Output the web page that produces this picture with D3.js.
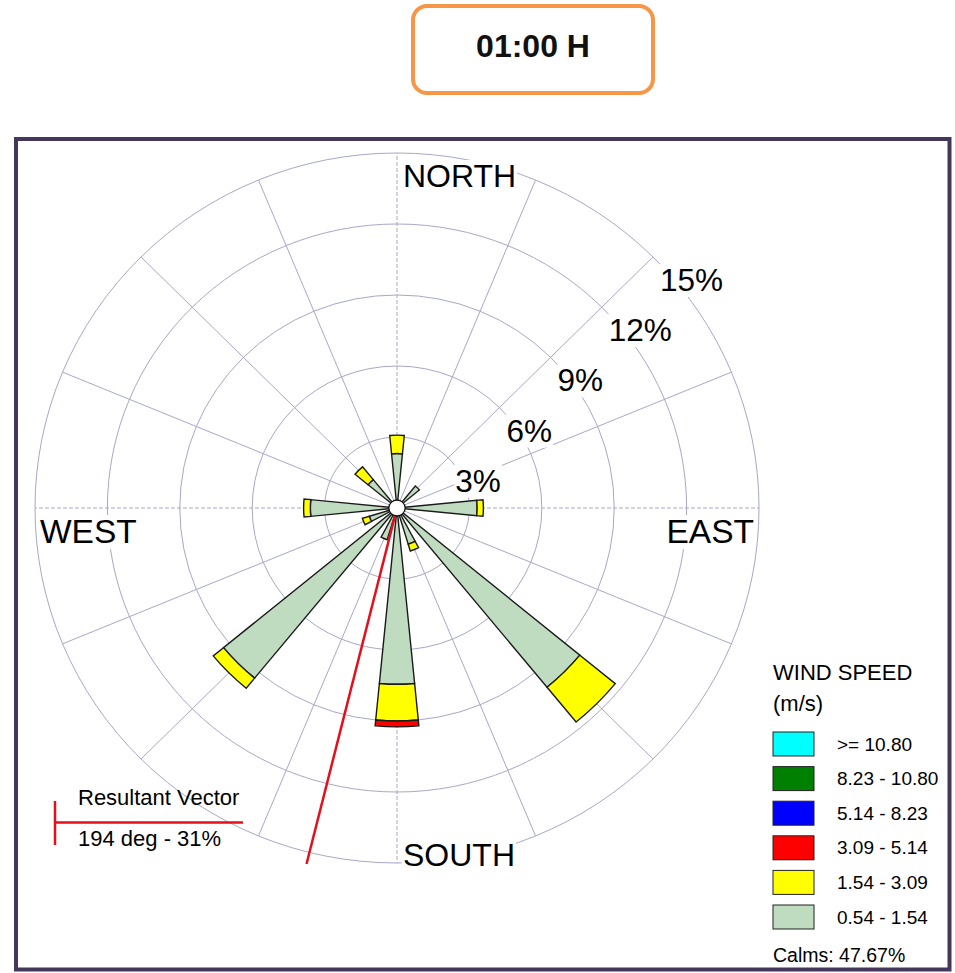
<!DOCTYPE html>
<html>
<head>
<meta charset="utf-8">
<script src="https://cdn.jsdelivr.net/npm/d3@7"></script>
<style>
  html, body { margin: 0; padding: 0; background: #fff; }
  svg { display: block; font-family: "Liberation Sans", Arial, sans-serif; }
</style>
</head>
<body>
<svg id="chart" width="955" height="973"></svg>
<script>
// Wind directions (blowing from), clockwise from north
const directions = ["N","NNE","NE","ENE","E","ESE","SE","SSE","S","SSW","SW","WSW","W","WNW","NW","NNW"];

// Frequency (%) per direction for each wind speed class
const speed054_154 = [2.30, 0, 1.20, 0, 3.32, 0, 9.80, 1.60, 7.45, 1.40, 9.30, 1.20, 3.59, 0, 1.55, 0];
const speed154_309 = [0.78, 0, 0, 0, 0.26, 0, 1.90, 0.30, 1.55, 0, 0.55, 0.30, 0.28, 0, 0.70, 0];
const speed309_514 = [0, 0, 0, 0, 0, 0, 0, 0, 0.25, 0, 0, 0, 0, 0, 0, 0];
const speed514_823 = [0, 0, 0, 0, 0, 0, 0, 0, 0, 0, 0, 0, 0, 0, 0, 0];
const speed823_1080 = [0, 0, 0, 0, 0, 0, 0, 0, 0, 0, 0, 0, 0, 0, 0, 0];
const speed1080up = [0, 0, 0, 0, 0, 0, 0, 0, 0, 0, 0, 0, 0, 0, 0, 0];

// Speed classes, from slowest to fastest (stacking order)
const classLabels = ["0.54 - 1.54", "1.54 - 3.09", "3.09 - 5.14", "5.14 - 8.23", "8.23 - 10.80", ">= 10.80"];
const classColors = ["#c0dcc0", "#ffff00", "#ff0000", "#0000ff", "#008000", "#00ffff"];
const classValues = [speed054_154, speed154_309, speed309_514, speed514_823, speed823_1080, speed1080up];

const ringTicks = [3, 6, 9, 12, 15];
const ringLabels = ["3%", "6%", "9%", "12%", "15%"];
const compassLabels = ["NORTH", "EAST", "SOUTH", "WEST"];

const titleText = "01:00 H";
const legendTitle = ["WIND SPEED", "(m/s)"];
const calmsText = "Calms: 47.67%";
const resultantDeg = 194;
const resultantPct = 31;

// Layout
const svg = d3.select("#chart");
const cx = 397, cy = 508;
const Ry = 355, Rx = 362;
const kx = Rx / Ry;
const FONT = "'Liberation Sans', Arial, sans-serif";

const rScale = d3.scaleLinear().domain([0, 15]).range([0, Ry]);
const angle = d3.scaleLinear().domain([0, directions.length]).range([0, 2 * Math.PI]);
const sectorWidth = (2 * Math.PI / directions.length) / 2;

// Title box
svg.append("rect")
  .attr("x", 413).attr("y", 6).attr("width", 240).attr("height", 87)
  .attr("rx", 14).attr("ry", 14)
  .attr("fill", "#fff").attr("stroke", "#f79646").attr("stroke-width", 4);
svg.append("text")
  .attr("x", 533).attr("y", 57).attr("text-anchor", "middle")
  .attr("font-size", 32).attr("font-weight", "bold").attr("fill", "#111")
  .text(titleText);

// Outer frame
svg.append("rect")
  .attr("x", 16).attr("y", 139).attr("width", 933.5).attr("height", 830.5)
  .attr("fill", "#fff").attr("stroke", "#45375c").attr("stroke-width", 4);

// Polar plot group (slightly wider than tall)
const plot = svg.append("g").attr("transform", `translate(${cx},${cy}) scale(${kx},1)`);
const gridColor = "#a7a7c9";

// Rings
plot.selectAll("circle.ring").data(ringTicks).join("circle")
  .attr("class", "ring")
  .attr("r", d => rScale(d))
  .attr("fill", "none").attr("stroke", gridColor).attr("stroke-width", 1)
  .attr("vector-effect", "non-scaling-stroke");

// Spokes; the four cardinal axes are dashed
plot.selectAll("line.spoke").data(directions.map((d, i) => i)).join("line")
  .attr("class", "spoke")
  .attr("x1", 0).attr("y1", 0)
  .attr("x2", i => rScale(15) * Math.sin(angle(i)))
  .attr("y2", i => -rScale(15) * Math.cos(angle(i)))
  .attr("stroke", gridColor).attr("stroke-width", 1)
  .attr("stroke-dasharray", i => i % 4 === 0 ? "4,2" : null)
  .attr("vector-effect", "non-scaling-stroke");

// Stacked petals
const arc = d3.arc();
const segments = [];
directions.forEach((dir, i) => {
  let base = 0;
  classValues.forEach((vals, c) => {
    const v = vals[i];
    if (v > 0) {
      segments.push({ i, c, r0: base, r1: base + v });
      base += v;
    }
  });
});
plot.selectAll("path.petal").data(segments).join("path")
  .attr("class", "petal")
  .attr("d", s => arc({
    innerRadius: rScale(s.r0),
    outerRadius: rScale(s.r1),
    startAngle: angle(s.i) - sectorWidth / 2,
    endAngle: angle(s.i) + sectorWidth / 2
  }))
  .attr("fill", s => classColors[s.c])
  .attr("stroke", "#1a1a1a").attr("stroke-width", 1.4)
  .attr("stroke-linejoin", "miter")
  .attr("vector-effect", "non-scaling-stroke");

// Resultant vector (drawn at half scale)
const resA = resultantDeg * Math.PI / 180;
plot.append("line")
  .attr("x1", 0).attr("y1", 0)
  .attr("x2", rScale(resultantPct / 2) * Math.sin(resA))
  .attr("y2", -rScale(resultantPct / 2) * Math.cos(resA))
  .attr("stroke", "#e3101c").attr("stroke-width", 2.5)
  .attr("vector-effect", "non-scaling-stroke");

// Center hub
plot.append("circle").attr("r", 8)
  .attr("fill", "#fff").attr("stroke", "#111").attr("stroke-width", 1.3)
  .attr("vector-effect", "non-scaling-stroke");

// Text with white backing
function labelWithBg(x, y, txt, size, anchor) {
  const g = svg.append("g");
  const bg = g.append("rect").attr("fill", "#fff");
  const t = g.append("text")
    .attr("x", x).attr("y", y)
    .attr("font-size", size).attr("font-family", FONT)
    .attr("text-anchor", anchor || "start").attr("fill", "#000")
    .text(txt);
  const b = t.node().getBBox();
  bg.attr("x", b.x - 1).attr("y", b.y + 2).attr("width", b.width + 2).attr("height", b.height - 3);
}

// Ring percentage labels along the NE diagonal
const diag = Math.PI / 4;
ringTicks.forEach((v, k) => {
  const x = cx + kx * rScale(v) * Math.sin(diag) + 7;
  const y = cy - rScale(v) * Math.cos(diag) + 34;
  labelWithBg(x, y, ringLabels[k], 31.5);
});

// Compass labels
const Rout = rScale(15);
labelWithBg(cx + 6, cy - Rout + 34, compassLabels[0], 32);
labelWithBg(cx + kx * Rout - 5, cy + 35, compassLabels[1], 33.5, "end");
labelWithBg(cx + 6, cy + Rout + 3, compassLabels[2], 32);
labelWithBg(cx - kx * Rout + 5, cy + 35, compassLabels[3], 33.5);

// Resultant vector legend
const rv = svg.append("g");
rv.append("line").attr("x1", 55).attr("y1", 822.5).attr("x2", 243).attr("y2", 822.5)
  .attr("stroke", "#e3101c").attr("stroke-width", 2.5);
rv.append("line").attr("x1", 55).attr("y1", 801).attr("x2", 55).attr("y2", 845)
  .attr("stroke", "#e3101c").attr("stroke-width", 2.5);
rv.append("text").attr("x", 78).attr("y", 805).attr("font-size", 22).attr("fill", "#000")
  .text("Resultant Vector");
rv.append("text").attr("x", 78).attr("y", 846).attr("font-size", 22).attr("fill", "#000")
  .text(`${resultantDeg} deg - ${resultantPct}%`);

// Speed legend
const lg = svg.append("g");
lg.append("text").attr("x", 773).attr("y", 680).attr("font-size", 22).attr("fill", "#000").text(legendTitle[0]);
lg.append("text").attr("x", 773).attr("y", 711).attr("font-size", 22).attr("fill", "#000").text(legendTitle[1]);
const legendOrder = d3.range(classLabels.length).reverse();
const rowY = d3.scaleLinear().domain([0, 1]).range([732, 766.6]);
legendOrder.forEach((c, row) => {
  lg.append("rect")
    .attr("x", 773).attr("y", rowY(row)).attr("width", 41).attr("height", 24)
    .attr("fill", classColors[c]).attr("stroke", "#222").attr("stroke-width", 1);
  lg.append("text")
    .attr("x", 837).attr("y", rowY(row) + 18.5)
    .attr("font-size", 19).attr("fill", "#000")
    .text(classLabels[c]);
});
lg.append("text").attr("x", 773).attr("y", 962).attr("font-size", 19.5).attr("fill", "#000").text(calmsText);
</script>
</body>
</html>
